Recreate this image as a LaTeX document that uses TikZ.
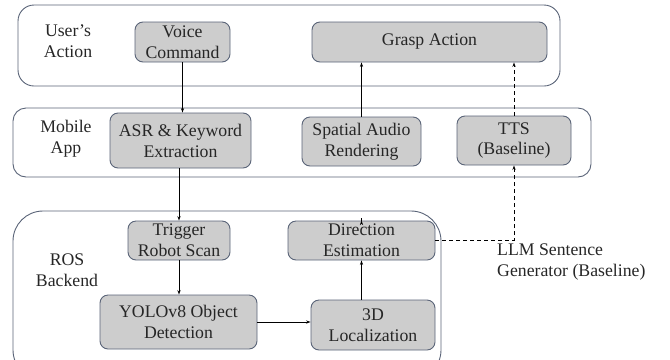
\documentclass[tikz,border=0pt]{standalone}
\usepackage{fontspec}
\setmainfont{Liberation Serif}
\usetikzlibrary{arrows.meta,calc}
\definecolor{edge}{HTML}{5A6478}
\definecolor{boxfill}{HTML}{CDCDCD}
\definecolor{ink}{HTML}{262626}
\begin{document}
\begin{tikzpicture}[x=1bp,y=-1bp,
  every node/.style={font=\fontsize{17.8}{21}\selectfont, text=ink, align=center, inner sep=0pt},
  layer/.style={draw=edge, line width=0.9bp, rounded corners=#1},
  stepbox/.style={draw=edge, fill=boxfill, line width=0.9bp, rounded corners=8bp},
  arr/.style={line width=0.9bp, -{Stealth[length=4.5bp,width=3.2bp]}},
  dasharr/.style={arr, dash pattern=on 4bp off 3bp}]
\useasboundingbox (0,0) rectangle (670,359);

% layers
\draw[layer=16bp] (18,5) rectangle (560,86);
\draw[layer=13bp] (13,108) rectangle (591,177);
\draw[layer=30bp] (13,211) rectangle (441,380);

% layer titles
\node (lu) at (68,41) {User’s\\Action};
\node (lm) at (66,139) {Mobile\\App};
\node (lr) at (67,270) {ROS\\Backend};

% user layer
\node[stepbox, minimum width=95bp, minimum height=40bp] (vc) at (182.5,42) {Voice\\Command};
\node[stepbox, minimum width=235bp, minimum height=40bp] (ga) at (429.5,42) {Grasp Action};

% mobile layer
\node[stepbox, minimum width=141bp, minimum height=55bp] (asr) at (180.5,140.5) {ASR \& Keyword\\Extraction};
\node[stepbox, minimum width=119bp, minimum height=49bp] (sar) at (361.5,141.5) {Spatial Audio\\Rendering};
\node[stepbox, minimum width=114bp, minimum height=49bp] (tts) at (514,140.5) {TTS\\(Baseline)};

% backend layer
\node[stepbox, minimum width=102bp, minimum height=39bp] (trs) at (179,240.5) {Trigger\\Robot Scan};
\node[stepbox, minimum width=147bp, minimum height=39bp] (dir) at (361.5,240.5) {Direction\\Estimation};
\node[stepbox, minimum width=157bp, minimum height=54bp] (yolo) at (178.5,322) {YOLOv8 Object\\Detection};
\node[stepbox, minimum width=124bp, minimum height=50bp] (loc) at (373,325) {3D\\Localization};

\node[align=left, anchor=north west] (llm) at (497,244) {LLM Sentence\\Generator (Baseline)};

% main flow
\draw[arr] (vc.south) -- (vc.south |- asr.north);
\draw[arr] (asr.south -| trs.north) -- (trs.north);
\draw[arr] (trs.south) -- (trs.south |- yolo.north);
\draw[arr] (yolo.east) -- (yolo.east -| loc.west);
\draw[arr] (dir.south |- loc.north) -- (dir.south);
\draw[arr] (dir.north) -- (dir.north -| sar.south);
\draw[arr] (sar.north) -- (sar.north |- ga.south);

% baseline path
\draw[dasharr] (dir.east) -- (dir.east -| tts.south) -- (tts.south);
\draw[dasharr] (tts.north) -- (tts.north |- ga.south);
\end{tikzpicture}
\end{document}
